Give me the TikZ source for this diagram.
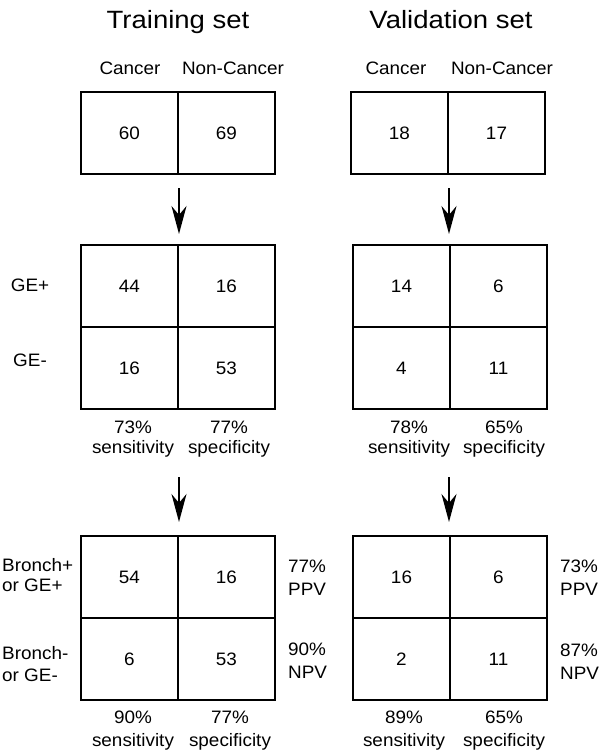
\documentclass[tikz,border=0pt]{standalone}
\usepackage{fontspec}
\setmainfont[FakeStretch=1.05]{Liberation Sans}
\newfontfamily\titlefont[FakeStretch=1.1]{Liberation Sans}
\usetikzlibrary{arrows.meta}

\begin{document}
\begin{tikzpicture}[x=1pt, y=-1pt, draw=black,
  cell/.style={draw, line width=2pt, minimum width=97pt, minimum height=82pt, inner sep=0pt, font=\fontsize{18}{20}\selectfont},
  lbl/.style={inner sep=0pt, align=center, font=\fontsize{18}{20}\selectfont},
  side/.style={lbl, align=left, anchor=west},
  heading/.style={inner sep=0pt, anchor=base, font=\titlefont\fontsize{25}{30}\selectfont},
  flow/.style={line width=1.8pt, -{Stealth[length=28pt, width=15pt, inset=9pt]}}]
\useasboundingbox (0,0) rectangle (600,753);

\node[heading] (trTitle) at (178,28) {Training set};
\node[heading] (vaTitle) at (451,28) {Validation set};

\node[lbl] (trCancer) at (130,68) {Cancer};
\node[lbl] (trNon) at (233,68) {Non-Cancer};
\node[lbl] (vaCancer) at (396,68) {Cancer};
\node[lbl] (vaNon) at (502,68) {Non-Cancer};

% training set
\node[cell] (trC0) at (129.5,133) {60};
\node[cell] (trN0) at (226.5,133) {69};
\node[cell] (trC1) at (129.5,286) {44};
\node[cell] (trN1) at (226.5,286) {16};
\node[cell] (trC2) at (129.5,368) {16};
\node[cell] (trN2) at (226.5,368) {53};
\node[cell] (trC3) at (129.5,577) {54};
\node[cell] (trN3) at (226.5,577) {16};
\node[cell] (trC4) at (129.5,659) {6};
\node[cell] (trN4) at (226.5,659) {53};

% validation set
\node[cell] (vaC0) at (399.5,133) {18};
\node[cell] (vaN0) at (496.5,133) {17};
\node[cell] (vaC1) at (401.5,286) {14};
\node[cell] (vaN1) at (498.5,286) {6};
\node[cell] (vaC2) at (401.5,368) {4};
\node[cell] (vaN2) at (498.5,368) {11};
\node[cell] (vaC3) at (401.5,577) {16};
\node[cell] (vaN3) at (498.5,577) {6};
\node[cell] (vaC4) at (401.5,659) {2};
\node[cell] (vaN4) at (498.5,659) {11};

\draw[flow, shorten <=13pt, shorten >=10pt] (trC0.south east) -- (trC1.north east);
\draw[flow, shorten <=67pt, shorten >=13pt] (trC2.south east) -- (trC3.north east);
\draw[flow, shorten <=13pt, shorten >=10pt] (vaC0.south east) -- (vaC0.south east |- vaC1.north);
\draw[flow, shorten <=67pt, shorten >=13pt] (vaC0.south east |- vaC2.south) -- (vaC0.south east |- vaC3.north);

\node[lbl] (gePos) at (30,285) {GE+};
\node[lbl] (geNeg) at (30,360) {GE-};
\node[side] (brPos) at (2,575) {Bronch+\\or GE+};
\node[side] (brNeg) at (2,664) {Bronch-\\[2pt]or GE-};

\node[lbl] (trSe1) at (133,439) {73\%\\sensitivity};
\node[lbl] (trSp1) at (229,439) {77\%\\specificity};
\node[lbl] (vaSe1) at (409,439) {78\%\\sensitivity};
\node[lbl] (vaSp1) at (504,439) {65\%\\specificity};

\node[lbl] (trSe2) at (133,731) {90\%\\[3pt]sensitivity};
\node[lbl] (trSp2) at (230,731) {77\%\\[3pt]specificity};
\node[lbl] (vaSe2) at (404,731) {89\%\\[3pt]sensitivity};
\node[lbl] (vaSp2) at (504,731) {65\%\\[3pt]specificity};

\node[side] (trPpv) at (288,578) {77\%\\[3pt]PPV};
\node[side] (trNpv) at (288,661) {90\%\\[3pt]NPV};
\node[side] (vaPpv) at (560,578) {73\%\\[3pt]PPV};
\node[side] (vaNpv) at (560,662) {87\%\\[3pt]NPV};
\end{tikzpicture}
\end{document}
